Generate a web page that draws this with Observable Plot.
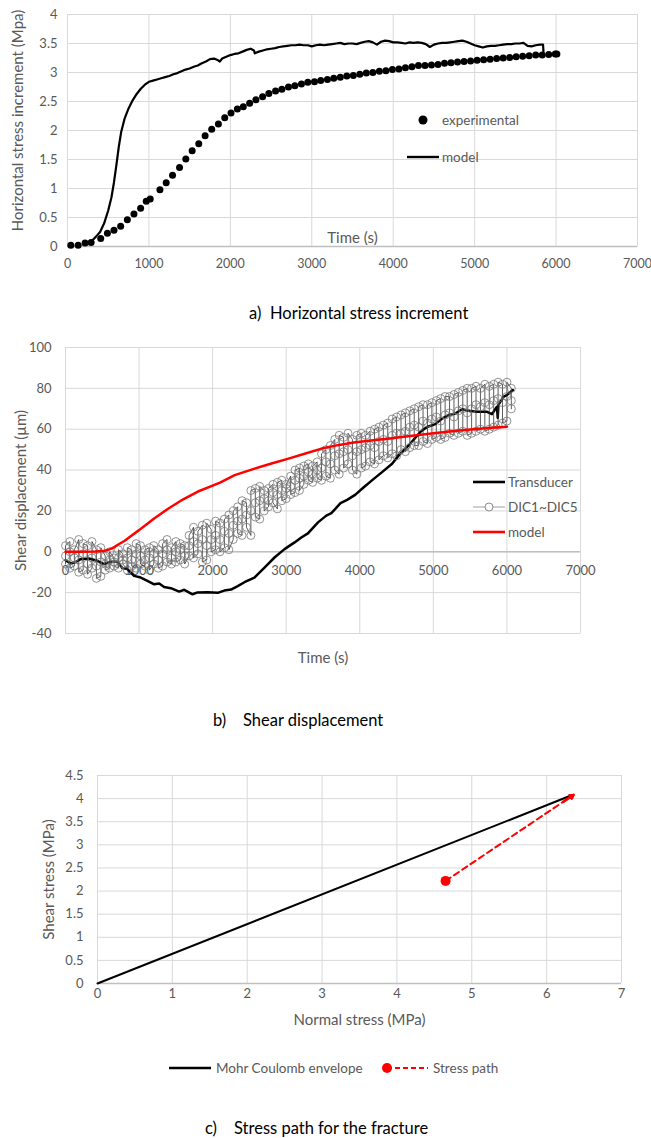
<!DOCTYPE html>
<html><head><meta charset="utf-8">
<script src="https://cdn.jsdelivr.net/npm/d3@7"></script>
<script src="https://cdn.jsdelivr.net/npm/@observablehq/plot@0.6"></script>
<style>
body{margin:0;background:#fff;font-family:Lato,"Open Sans",sans-serif;}
#page{position:relative;width:651px;height:1138px;overflow:hidden;background:#fff;}
.cap{position:absolute;font-size:16.5px;color:#000;white-space:pre;line-height:20px;}
.leg{position:absolute;font-size:13.5px;color:#595959;white-space:nowrap;line-height:16px;}
.leg svg{position:absolute;overflow:visible;}
</style></head><body><div id="page"></div>
<script>
// ---------- Chart a: Horizontal stress increment ----------
const aXTicks = [0,1000,2000,3000,4000,5000,6000,7000];
const aYTicks = [0,0.5,1,1.5,2,2.5,3,3.5,4];
const expT = [41,131,216,290,408,490,571,653,735,816,898,967,1016,1135,1212,1290,1376,1453,1531,1612,1690,1771,1853,1931,2008,2086,2159,2237,2314,2396,2473,2555,2633,2714,2792,2873,2951,3033,3110,3192,3270,3350,3430,3510,3590,3670,3750,3830,3910,3990,4070,4150,4230,4310,4390,4470,4550,4630,4710,4790,4870,4950,5030,5110,5190,5270,5350,5430,5510,5590,5670,5750,5830,5910,5990,6010];
const expV = [0.02,0.02,0.06,0.07,0.14,0.23,0.28,0.35,0.46,0.56,0.66,0.78,0.82,0.98,1.10,1.23,1.36,1.51,1.65,1.77,1.91,2.02,2.11,2.22,2.30,2.37,2.41,2.47,2.53,2.58,2.64,2.68,2.71,2.75,2.77,2.80,2.83,2.84,2.86,2.88,2.90,2.92,2.94,2.95,2.97,2.99,3.00,3.02,3.03,3.05,3.06,3.08,3.10,3.12,3.12,3.13,3.14,3.16,3.17,3.18,3.19,3.20,3.21,3.22,3.23,3.24,3.25,3.26,3.27,3.28,3.29,3.30,3.30,3.31,3.32,3.32];
const modT = [250,300,350,400,450,500,540,570,600,630,660,700,750,800,850,900,950,1000,1050,1100,1150,1200,1250,1300,1350,1400,1450,1500,1550,1600,1650,1700,1750,1800,1850,1870,1900,1950,2000,2050,2100,2150,2200,2250,2290,2300,2350,2400,2450,2500,2550,2600,2650,2700,2750,2800,2850,2900,2950,3000,3050,3100,3150,3200,3250,3300,3350,3400,3450,3500,3550,3600,3650,3700,3750,3800,3850,3900,3950,4000,4050,4100,4150,4200,4250,4300,4350,4400,4450,4500,4550,4600,4650,4700,4750,4800,4850,4900,4950,5000,5050,5100,5150,5200,5250,5300,5350,5400,5450,5500,5550,5600,5650,5700,5750,5800,5840,5845];
const modV = [0.05,0.10,0.17,0.25,0.40,0.62,0.85,1.10,1.40,1.72,1.98,2.20,2.38,2.52,2.63,2.72,2.79,2.84,2.86,2.88,2.90,2.92,2.94,2.97,2.99,3.02,3.05,3.07,3.10,3.12,3.16,3.19,3.23,3.24,3.21,3.19,3.24,3.27,3.30,3.32,3.33,3.36,3.39,3.41,3.38,3.33,3.36,3.38,3.40,3.41,3.42,3.44,3.45,3.46,3.47,3.47,3.48,3.47,3.47,3.45,3.47,3.48,3.47,3.48,3.49,3.50,3.51,3.49,3.50,3.50,3.49,3.51,3.53,3.54,3.52,3.48,3.53,3.55,3.54,3.52,3.52,3.51,3.50,3.52,3.51,3.52,3.51,3.49,3.44,3.48,3.50,3.51,3.51,3.52,3.53,3.54,3.55,3.53,3.50,3.47,3.45,3.43,3.45,3.46,3.46,3.47,3.48,3.49,3.49,3.50,3.50,3.51,3.46,3.45,3.47,3.48,3.48,3.36];

// ---------- Chart b: Shear displacement ----------
const bXTicks = [0,1000,2000,3000,4000,5000,6000,7000];
const bYTicks = [-40,-20,0,20,40,60,80,100];
const trT = [0,68,140,205,318,432,523,614,705,773,841,932,1023,1114,1205,1273,1341,1432,1545,1614,1727,1795,1932,2068,2159,2250,2341,2432,2568,2705,2841,2977,3114,3205,3295,3432,3545,3614,3738,3828,3941,4054,4190,4303,4439,4529,4597,4688,4824,4914,5027,5118,5208,5299,5389,5480,5593,5729,5796,5864,5875,5885,5910,5955,6000,6081];
const trV = [-4.1,-5.7,-5.0,-3.6,-3.3,-4.4,-6.0,-4.9,-4.9,-8.0,-8.5,-11.8,-12.6,-14.2,-15.9,-15.5,-17.2,-17.8,-19.5,-18.6,-20.8,-19.9,-19.8,-20.1,-19.0,-18.5,-16.8,-14.9,-12.6,-7.7,-2.8,1.3,4.6,7.0,9.0,14.4,17.7,18.9,23.8,25.4,28.0,31.6,35.7,39.0,43.1,47.2,49.7,53.0,58.7,61.1,62.5,65.2,66.9,67.7,69.8,69.0,68.5,68.5,67.4,71.0,65.5,72.0,73.4,75.9,76.7,79.2];
const dicT = [0,60,120,180,240,300,360,420,480,540,600,660,720,780,840,900,960,1020,1080,1140,1200,1260,1320,1380,1440,1500,1560,1620,1680,1740,1800,1860,1920,1980,2040,2100,2160,2220,2280,2340,2400,2460,2520,2580,2640,2700,2760,2820,2880,2940,3000,3060,3120,3180,3240,3300,3360,3420,3480,3540,3600,3660,3720,3780,3840,3900,3960,4020,4080,4140,4200,4260,4320,4380,4440,4500,4560,4620,4680,4740,4800,4860,4920,4980,5040,5100,5160,5220,5280,5340,5400,5460,5520,5580,5640,5700,5760,5820,5880,5940,6000,6060];
const dicLo = [-6,-8,-7,-10,-9,-11,-8,-13,-12,-9,-8,-7,-8,-6,-9,-7,-8,-6,-7,-9,-6,-8,-7,-5,-6,-5,-4,-6,-2,-3,-1,-5,-4,0,1,0,2,1,6,9,8,12,8,17,16,20,22,24,21,25,26,28,29,30,33,35,34,36,35,37,36,40,38,41,43,40,38,41,42,44,43,45,47,46,48,47,50,49,51,52,52,54,53,55,56,55,56,58,57,58,59,57,58,59,60,59,60,61,62,63,64,70];
const dicMid = [-2,0,-3,-4,-1,-6,-3,-7,-5,-6,-4,-5,-3,-4,-3,-4,-1,-2,-4,-3,-1,-4,-1,1,-3,0,1,-2,3,5,4,6,3,6,8,6,10,9,13,15,16,18,20,24,25,26,25,29,28,30,31,32,35,36,37,39,38,40,41,44,43,47,48,49,50,47,49,50,51,52,51,54,55,54,57,58,58,59,61,62,61,64,63,65,66,64,67,68,66,69,70,68,70,72,71,73,72,74,75,73,76,74];
const dicHi = [3,5,1,6,4,3,5,1,2,-2,0,-3,1,-1,2,1,4,3,1,2,3,1,4,6,2,5,4,3,8,12,10,13,14,11,15,14,16,18,20,22,25,24,30,31,32,30,31,33,34,35,33,37,40,41,42,43,42,44,48,50,52,55,57,56,58,55,57,58,57,59,60,61,62,63,65,66,67,68,69,70,71,72,72,73,74,75,76,76,77,78,79,80,80,81,80,82,81,82,83,82,83,80];
const mbT = [0,200,400,520,600,650,700,800,900,1000,1100,1200,1400,1600,1800,2000,2100,2300,2560,2800,3020,3250,3470,3700,3918,4150,4381,4600,4830,5000,5250,5500,5750,6000];
const mbV = [0,0,0.1,0.4,1.2,2.0,3.2,5.3,8.0,10.6,13.4,16.2,21.2,25.7,29.5,32.4,33.9,37.5,40.6,43.2,45.5,48.0,50.4,52.2,53.5,54.5,55.3,56.3,57.3,58.0,59.0,59.9,60.6,61.2];

// ---------- Chart c: Stress path ----------
const cXTicks = [0,1,2,3,4,5,6,7];
const cYTicks = [0,0.5,1,1.5,2,2.5,3,3.5,4,4.5];
const mohrX = [0, 6.3];
const mohrY = [0, 4.05];
const pathX = [4.65, 6.22, 6.36];
const pathY = [2.22, 3.93, 4.08];

const page = document.getElementById("page");
const GRID = "#d9d9d9", AXIS = "#bfbfbf", TXT = "#595959";
const style = {fontFamily: "Lato, 'Open Sans', sans-serif", fontSize: "13px", color: TXT, background: "white", overflow: "visible"};
const fmt = d => String(d);
const TITLE = 15;
function place(el, top) {
  const d = document.createElement("div");
  d.style.cssText = `position:absolute;left:0;top:${top}px;`;
  d.appendChild(el); page.appendChild(d);
}
function html(s) { page.insertAdjacentHTML("beforeend", s); }

// Chart a
const expA = expT.map((t, i) => ({t, v: expV[i]}));
const modA = modT.map((t, i) => ({t, v: modV[i]}));
const chartA = Plot.plot({
  width: 651, height: 285, marginTop: 14, marginBottom: 39, marginLeft: 67, marginRight: 14,
  style,
  x: {domain: [0, 7000]},
  y: {domain: [0, 4]},
  marks: [
    Plot.gridX(aXTicks, {stroke: GRID, strokeOpacity: 1}),
    Plot.gridY(aYTicks, {stroke: GRID, strokeOpacity: 1}),
    Plot.ruleY([0], {stroke: AXIS, strokeWidth: 1.5}),
    Plot.axisX(aXTicks, {tickSize: 0, tickPadding: 13, tickFormat: fmt, label: null, fontSize: 12.5}),
    Plot.axisX([], {label: "Time (s)", labelAnchor: "center", labelOffset: -4, labelArrow: "none", fontSize: TITLE}),
    Plot.axisY(aYTicks, {tickSize: 0, tickPadding: 10, tickFormat: fmt, label: null}),
    Plot.text(["Horizontal stress increment (Mpa)"], {frameAnchor: "left", textAnchor: "middle", lineAnchor: "middle", text: d => d, rotate: -90, dx: -49, dy: -10, fontSize: TITLE, fill: TXT}),
    Plot.line(modA, {x: "t", y: "v", stroke: "#000", strokeWidth: 2.2}),
    Plot.dot(expA, {x: "t", y: "v", r: 3.5, fill: "#000"})
  ]
});
place(chartA, 0);
html(`<div class="leg" style="left:442px;top:112px;"><svg style="left:-19px;top:8px" width="1" height="1"><circle r="4.5" fill="#000"/></svg>experimental</div>`);
html(`<div class="leg" style="left:442px;top:149px;"><svg style="left:-35px;top:8px" width="1" height="1"><line x1="0" x2="32" stroke="#000" stroke-width="2.4"/></svg>model</div>`);
html(`<div class="cap" style="left:249px;top:303px;">a)</div><div class="cap" style="left:270px;top:303px;">Horizontal stress increment</div>`);

// Chart b
const trB = trT.map((t, i) => ({t, v: trV[i]}));
const mB = mbT.map((t, i) => ({t, v: mbV[i]}));
const dicPts = [];
dicT.forEach((t, i) => {
  if (i % 2 === 0) dicPts.push({t, v: dicLo[i]}, {t, v: dicMid[i]}, {t, v: dicHi[i]});
  else dicPts.push({t, v: dicHi[i]}, {t, v: dicMid[i]}, {t, v: dicLo[i]});
});
const chartB = Plot.plot({
  width: 651, height: 340, marginTop: 17, marginBottom: 37, marginLeft: 65, marginRight: 71,
  style,
  x: {domain: [0, 7000], axis: null},
  y: {domain: [-40, 100]},
  marks: [
    Plot.gridX(bXTicks, {stroke: GRID, strokeOpacity: 1}),
    Plot.gridY(bYTicks, {stroke: GRID, strokeOpacity: 1}),
    Plot.ruleY([0], {stroke: AXIS, strokeWidth: 1.5}),
    Plot.axisY(bYTicks, {tickSize: 0, tickPadding: 14, tickFormat: fmt, label: null}),
    Plot.axisY([], {label: "Shear displacement (µm)", labelAnchor: "center", labelOffset: 50, labelArrow: "none", fontSize: TITLE}),
    Plot.text(bXTicks, {x: d => d, y: 0, dy: 19, text: fmt, fill: TXT}),
    Plot.axisX([], {label: "Time (s)", labelAnchor: "center", labelOffset: 29, labelArrow: "none", fontSize: TITLE}),
    Plot.line(trB, {x: "t", y: "v", stroke: "#000", strokeWidth: 2.5}),
    Plot.line(dicPts, {x: "t", y: "v", stroke: "#333", strokeWidth: 0.8}),
    Plot.dot(dicPts, {x: "t", y: "v", r: 4, stroke: "#777", strokeWidth: 0.8, fill: "none"}),
    Plot.line(mB, {x: "t", y: "v", stroke: "#ff0000", strokeWidth: 2.5})
  ]
});
place(chartB, 330);
html(`<div class="leg" style="left:508px;top:474px;"><svg style="left:-35px;top:8px" width="1" height="1"><line x1="0" x2="32" stroke="#000" stroke-width="2.6"/></svg>Transducer</div>`);
html(`<div class="leg" style="left:508px;top:499px;"><svg style="left:-35px;top:8px" width="1" height="1"><line x1="0" x2="32" stroke="#888" stroke-width="0.8"/><circle cx="16" r="4" fill="#fff" stroke="#6f6f6f" stroke-width="0.8"/></svg>DIC1~DIC5</div>`);
html(`<div class="leg" style="left:508px;top:524px;"><svg style="left:-35px;top:8px" width="1" height="1"><line x1="0" x2="32" stroke="#ff0000" stroke-width="2.6"/></svg>model</div>`);
html(`<div class="cap" style="left:213px;top:710px;">b)</div><div class="cap" style="left:243px;top:710px;">Shear displacement</div>`);

// Chart c
const mohr = mohrX.map((x, i) => ({x, y: mohrY[i]}));
const path = pathX.map((x, i) => ({x, y: pathY[i]}));
const chartC = Plot.plot({
  width: 651, height: 270, marginTop: 15, marginBottom: 47, marginLeft: 97, marginRight: 30,
  style,
  x: {domain: [0, 7]},
  y: {domain: [0, 4.5]},
  marks: [
    Plot.gridX(cXTicks, {stroke: GRID, strokeOpacity: 1}),
    Plot.gridY(cYTicks, {stroke: GRID, strokeOpacity: 1}),
    Plot.ruleY([0], {stroke: AXIS, strokeWidth: 1.5}),
    Plot.axisX(cXTicks, {tickSize: 0, tickPadding: 5, tickFormat: fmt, label: null}),
    Plot.axisX([], {label: "Normal stress (MPa)", labelAnchor: "center", labelOffset: 41, labelArrow: "none", fontSize: TITLE}),
    Plot.axisY(cYTicks, {tickSize: 0, tickPadding: 14, tickFormat: fmt, label: null}),
    Plot.axisY([], {label: "Shear stress (MPa)", labelAnchor: "center", labelOffset: 54, labelArrow: "none", fontSize: TITLE}),
    Plot.line(mohr, {x: "x", y: "y", stroke: "#000", strokeWidth: 2}),
    Plot.line(path, {x: "x", y: "y", stroke: "#ff0000", strokeWidth: 2, strokeDasharray: "6,4"}),
    Plot.arrow([{x1: pathX[1], y1: pathY[1], x2: pathX[2], y2: pathY[2]}], {x1: "x1", y1: "y1", x2: "x2", y2: "y2", stroke: "#ff0000", strokeWidth: 2.5, headLength: 9}),
    Plot.dot([path[0]], {x: "x", y: "y", r: 5, fill: "#ff0000"})
  ]
});
place(chartC, 760);
html(`<div class="leg" style="left:216px;top:1060px;"><svg style="left:-47px;top:8px" width="1" height="1"><line x1="0" x2="42" stroke="#000" stroke-width="2.4"/></svg>Mohr Coulomb envelope</div>`);
html(`<div class="leg" style="left:433px;top:1060px;"><svg style="left:-46px;top:8px" width="1" height="1"><line x1="0" x2="41" stroke="#ff0000" stroke-width="2.2" stroke-dasharray="5,3"/><circle cx="0" r="5" fill="#ff0000"/></svg>Stress path</div>`);
html(`<div class="cap" style="left:205px;top:1118px;">c)</div><div class="cap" style="left:234px;top:1118px;">Stress path for the fracture</div>`);
</script></body></html>
